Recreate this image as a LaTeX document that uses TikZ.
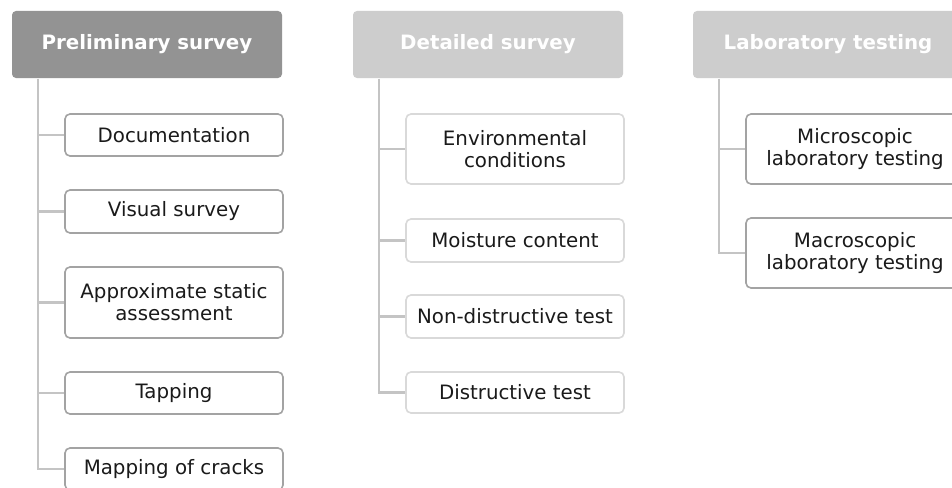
\documentclass[tikz,border=0pt]{standalone}
\usepackage{fontspec}
\setmainfont{DejaVu Sans}
\definecolor{headdark}{HTML}{939393}
\definecolor{headlight}{HTML}{CDCDCD}
\definecolor{trunkc}{HTML}{C4C4C4}
\definecolor{borderdark}{HTML}{A3A3A3}
\definecolor{borderlight}{HTML}{D9D9D9}
\definecolor{textc}{HTML}{1A1A1A}
\begin{document}
\begin{tikzpicture}[x=1pt,y=-1pt,
  head/.style={rectangle, rounded corners=4pt, minimum width=270pt, minimum height=67pt,
    inner sep=0pt, text=white, font=\fontsize{19.8}{22}\selectfont\bfseries},
  item/.style={rectangle, rounded corners=5pt, line width=1.6pt, fill=white,
    minimum width=218pt, inner sep=0pt, align=center, text=textc,
    font=\fontsize{19.8}{22}\selectfont},
  itemdark/.style={item, draw=borderdark},
  itemlight/.style={item, draw=borderlight},
  trunk/.style={draw=trunkc, line width=2.6pt}]
\useasboundingbox (0,0) rectangle (952,487);
\clip (0,0) rectangle (952,487);
\fill[white] (0,0) rectangle (952,487);

% Column 1
\node[head, fill=headdark] (h1) at (147,44.5) {Preliminary survey};
\node[itemdark, minimum height=42pt] (a1) at (174,135) {Documentation};
\node[itemdark, minimum height=43pt] (a2) at (174,211.5) {Visual survey};
\node[itemdark, minimum height=71pt] (a3) at (174,302.5) {Approximate static\\assessment};
\node[itemdark, minimum height=42pt] (a4) at (174,393) {Tapping};
\node[itemdark, minimum height=42pt] (a5) at (174,469) {Mapping of cracks};
\coordinate (t1) at (38,78.5);
\draw[trunk] (t1) |- (a5.west);
\foreach \n in {a1,a2,a3,a4} \draw[trunk] (t1 |- \n.west) -- (\n.west);

% Column 2
\node[head, fill=headlight] (h2) at (488,44.5) {Detailed survey};
\node[itemlight, minimum height=70pt] (b1) at (515,149) {Environmental\\conditions};
\node[itemlight, minimum height=43pt] (b2) at (515,240.5) {Moisture content};
\node[itemlight, minimum height=43pt] (b3) at (515,316.5) {Non-distructive test};
\node[itemlight, minimum height=41pt] (b4) at (515,392.5) {Distructive test};
\coordinate (t2) at (379,78.5);
\draw[trunk] (t2) |- (b4.west);
\foreach \n in {b1,b2,b3} \draw[trunk] (t2 |- \n.west) -- (\n.west);

% Column 3
\node[head, fill=headlight] (h3) at (828,44.5) {Laboratory testing};
\node[itemdark, minimum height=70pt] (c1) at (855,149) {Microscopic\\laboratory testing};
\node[itemdark, minimum height=70pt] (c2) at (855,253) {Macroscopic\\laboratory testing};
\coordinate (t3) at (719,78.5);
\draw[trunk] (t3) |- (c2.west);
\draw[trunk] (t3 |- c1.west) -- (c1.west);
\end{tikzpicture}
\end{document}
